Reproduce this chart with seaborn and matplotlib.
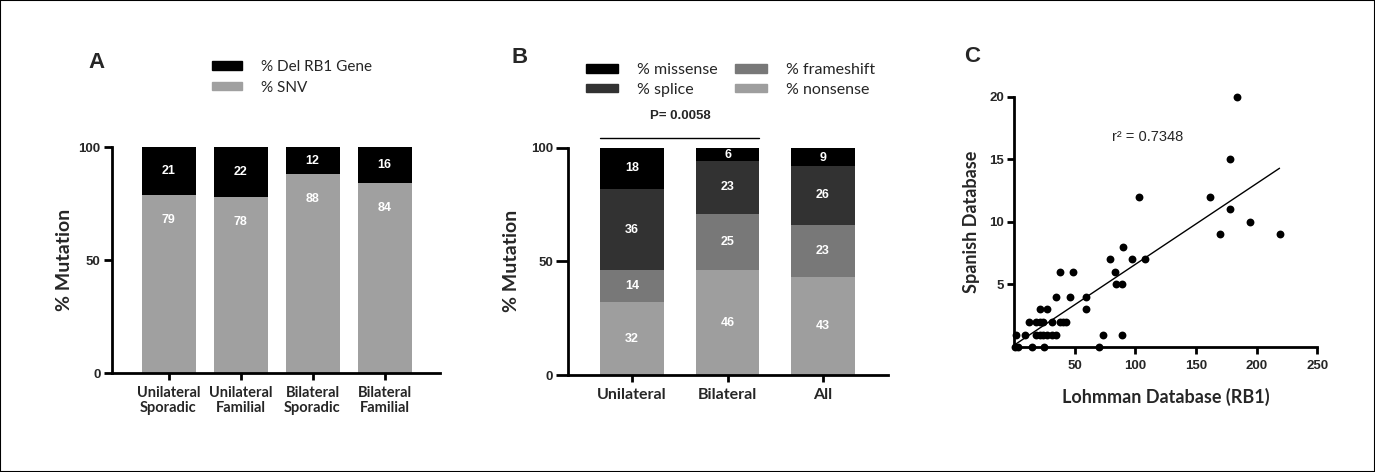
import matplotlib.pyplot as plt
import numpy as np
import pandas as pd
import seaborn as sns
from matplotlib.patches import Patch, Rectangle

sns.set_style('ticks')
plt.rcParams['font.family'] = ['Lato', 'DejaVu Sans']
NUM_FONT = 'Liberation Sans'

# Panel A: deletion vs SNV
groups_a = ['Unilateral\nSporadic', 'Unilateral\nFamilial', 'Bilateral\nSporadic', 'Bilateral\nFamilial']
snv = [79, 78, 88, 84]
del_rb1 = [21, 22, 12, 16]

# Panel B: type of point mutation
groups_b = ['Unilateral', 'Bilateral', 'All']
nonsense = [32, 46, 43]
frameshift = [14, 25, 23]
splice = [36, 23, 26]
missense = [18, 6, 9]
p_text = 'P= 0.0058'

# Panel C: Lohmman vs Spanish database counts
lohmman = [1, 3, 15, 25, 70,
           2, 9, 18, 21, 24, 27, 31, 35, 73, 89,
           12, 18, 21, 24, 31, 38, 40, 43,
           21, 27, 59,
           35, 46, 59,
           84, 89,
           38, 49, 83,
           79, 97, 108,
           90,
           170, 219,
           195,
           178,
           103, 162,
           178,
           184]
spanish = [0, 0, 0, 0, 0,
           1, 1, 1, 1, 1, 1, 1, 1, 1, 1,
           2, 2, 2, 2, 2, 2, 2, 2,
           3, 3, 3,
           4, 4, 4,
           5, 5,
           6, 6, 6,
           7, 7, 7,
           8,
           9, 9,
           10,
           11,
           12, 12,
           15,
           20]
r2_text = 'r\u00b2 = 0.7348'

fig = plt.figure(figsize=(13.75, 4.72), dpi=100)


def style_axes(ax, ylen=5):
    sns.despine(ax=ax)
    for side in ['left', 'bottom']:
        ax.spines[side].set_linewidth(2)
        ax.spines[side].set_color('black')
    ax.tick_params(width=2, length=5, color='black', pad=2)
    ax.tick_params(axis='y', length=ylen)
    ax.tick_params(axis='x', pad=4)


def stacked_bars(ax, cats, layers, colors, width):
    tops = np.cumsum(np.array(layers), axis=0)
    for top, color in zip(tops[::-1], colors[::-1]):
        sns.barplot(x=cats, y=top, color=color, width=width, saturation=1,
                    errorbar=None, edgecolor='none', linewidth=0, ax=ax)
    return tops


# ---------- A ----------
ax_a = fig.add_axes([0.0812, 0.209, 0.2388, 0.479])
colors_a = ['#a0a0a0', '#000000']
tops_a = stacked_bars(ax_a, groups_a, [snv, del_rb1], colors_a, 0.75)
for i, (s, d) in enumerate(zip(snv, del_rb1)):
    ax_a.text(i, s - 11, str(s), ha='center', va='center', color='white',
              fontsize=9, fontweight='bold', family=NUM_FONT)
    ax_a.text(i, min(s + d / 2, 100 - d / 2), str(d), ha='center', va='center', color='white',
              fontsize=9, fontweight='bold', family=NUM_FONT)
ax_a.set_xlim(-0.79, 3.77)
ax_a.set_ylim(0, 100)
ax_a.set_yticks([0, 50, 100])
ax_a.set_yticklabels(['0', '50', '100'], fontsize=9.5, fontweight='bold', family=NUM_FONT)
ax_a.set_xticks(range(len(groups_a)))
ax_a.set_xticklabels(groups_a, fontsize=10.5, fontweight='bold', linespacing=1.1)
ax_a.set_ylabel('% Mutation', fontsize=14, fontweight='bold', labelpad=4)
ax_a.set_xlabel('')
style_axes(ax_a, ylen=6)
leg_a = [Patch(color='#000000', label='% Del RB1 Gene'), Patch(color='#a0a0a0', label='% SNV')]
fig.legend(handles=leg_a, loc='upper left', bbox_to_anchor=(0.154, 0.873), frameon=False,
           fontsize=11, handlelength=2.0, handleheight=0.45, handletextpad=1.2,
           labelspacing=0.45, borderpad=0, borderaxespad=0)
fig.text(0.064, 0.868, 'A', fontsize=16, fontweight='bold', family=NUM_FONT, va='center')

# ---------- B ----------
ax_b = fig.add_axes([0.4133, 0.2055, 0.2323, 0.4816])
colors_b = ['#9e9e9e', '#787878', '#323232', '#000000']
layers_b = [nonsense, frameshift, splice, missense]
tops_b = stacked_bars(ax_b, groups_b, layers_b, colors_b, 0.67)
for layer, top in zip(layers_b, tops_b):
    for i, (v, t) in enumerate(zip(layer, top)):
        ax_b.text(i, min(t, 100) - v / 2, str(v), ha='center', va='center', color='white',
                  fontsize=9, fontweight='bold', family=NUM_FONT)
ax_b.set_xlim(-0.67, 2.68)
ax_b.set_ylim(0, 100)
ax_b.set_yticks([0, 50, 100])
ax_b.set_yticklabels(['0', '50', '100'], fontsize=9.5, fontweight='bold', family=NUM_FONT)
ax_b.set_xticks(range(len(groups_b)))
ax_b.set_xticklabels(groups_b, fontsize=11.5, fontweight='bold')
ax_b.set_ylabel('% Mutation', fontsize=14, fontweight='bold', labelpad=8)
ax_b.set_xlabel('')
style_axes(ax_b, ylen=9)
ax_b.plot([-0.335, 1.335], [104.3, 104.3], color='black', lw=1, clip_on=False)
ax_b.text(0.5, 114, p_text, ha='center', va='center', fontsize=9.5, fontweight='bold',
          family=NUM_FONT)
leg_b = [Patch(color=c, label=l) for c, l in zip(
    ['#000000', '#323232', '#787878', '#9e9e9e'],
    ['% missense', '% splice', '% frameshift', '% nonsense'])]
fig.legend(handles=leg_b, loc='upper left', bbox_to_anchor=(0.426, 0.866), frameon=False,
           ncol=2, fontsize=11.5, handlelength=2.0, handleheight=0.45, handletextpad=1.2,
           labelspacing=0.35, columnspacing=1.1, borderpad=0, borderaxespad=0)
fig.text(0.372, 0.878, 'B', fontsize=16, fontweight='bold', family=NUM_FONT, va='center')

# ---------- C ----------
ax_c = fig.add_axes([0.7375, 0.2648, 0.2204, 0.530])
sns.regplot(x=np.array(lohmman), y=np.array(spanish), scatter=False, ci=None, truncate=True,
            line_kws=dict(color='black', lw=1), ax=ax_c)
sns.scatterplot(x=lohmman, y=spanish, color='black', s=32, linewidth=0, clip_on=False,
                zorder=3, ax=ax_c)
ax_c.set_xlim(0, 250)
ax_c.set_ylim(0, 20)
ax_c.set_xticks([50, 100, 150, 200, 250])
ax_c.set_xticklabels(['50', '100', '150', '200', '250'], fontsize=9.5, fontweight='bold',
                     family=NUM_FONT)
ax_c.set_yticks([5, 10, 15, 20])
ax_c.set_yticklabels(['5', '10', '15', '20'], fontsize=9.5, fontweight='bold', family=NUM_FONT)
ax_c.set_xlabel('Lohmman Database (RB1)', fontsize=13, fontweight='bold', labelpad=12)
ax_c.set_ylabel('Spanish Database', fontsize=13, fontweight='bold', labelpad=7)
style_axes(ax_c)
ax_c.text(110, 16.8, r2_text, ha='center', va='center', fontsize=10.5, family=NUM_FONT)
fig.text(0.7015, 0.881, 'C', fontsize=16, fontweight='bold', family=NUM_FONT, va='center')

fig.patches.append(Rectangle((0, 0), 1, 1, transform=fig.transFigure, fill=False,
                             edgecolor='black', linewidth=1.5))

fig.savefig('out.png', dpi=100)
